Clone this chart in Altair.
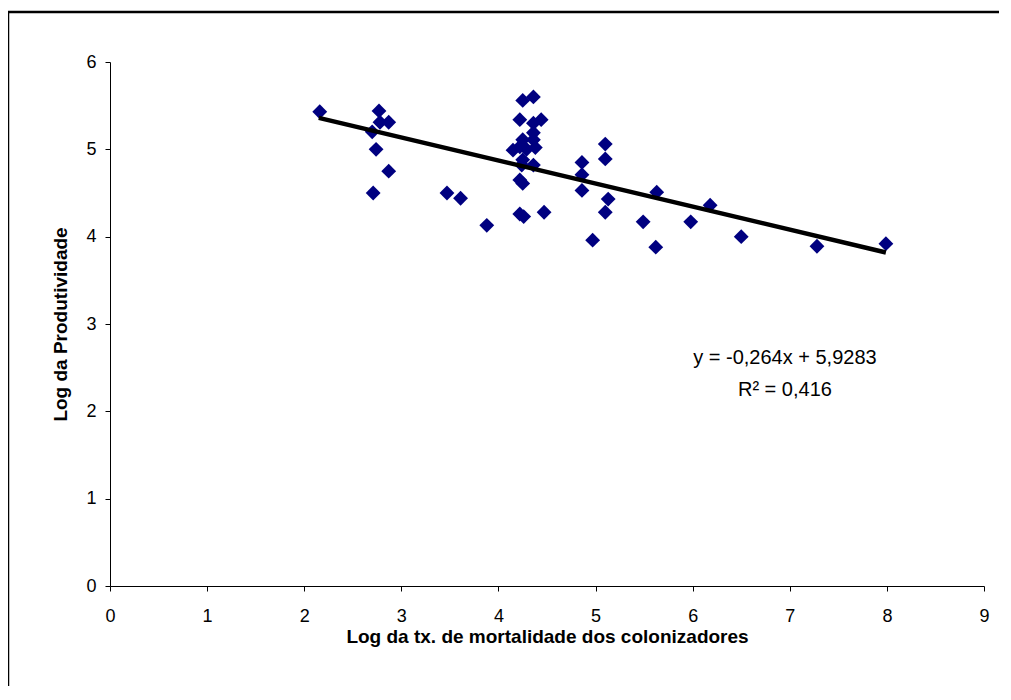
import altair as alt
import pandas as pd

# Scatter points: log settler mortality (x) vs log productivity (y)
mort = [2.16, 2.77, 2.78, 2.87, 2.70, 2.74, 2.87, 2.71, 3.47, 3.61, 3.88,
        4.25, 4.36, 4.22, 4.44, 4.36, 4.36, 4.36, 4.25, 4.15, 4.22, 4.29, 4.38,
        4.25, 4.36, 4.24, 4.22, 4.25, 4.22, 4.26, 4.47,
        4.86, 4.86, 4.86, 5.10, 5.10, 5.13, 5.10, 4.97, 5.49, 5.63, 5.62,
        5.98, 6.18, 6.50, 7.28, 7.99]
prod = [5.43, 5.44, 5.31, 5.31, 5.20, 5.00, 4.75, 4.50, 4.50, 4.44, 4.13,
        5.56, 5.60, 5.34, 5.34, 5.30, 5.19, 5.11, 5.11, 4.99, 5.03, 5.00, 5.02,
        4.88, 4.82, 4.82, 4.65, 4.61, 4.26, 4.23, 4.28,
        4.85, 4.71, 4.53, 5.06, 4.89, 4.43, 4.28, 3.96, 4.17, 4.51, 3.88,
        4.17, 4.36, 4.00, 3.89, 3.92]

# Trend line
slope = -0.264
intercept = 5.9283
trend_x = [2.15, 7.99]
trend_y = [intercept + slope * v for v in trend_x]

eq_lines = ["y = -0,264x + 5,9283", "R\u00b2 = 0,416"]
eq_x = [6.95, 6.95]
eq_y = [2.61, 2.24]

x_ticks = list(range(0, 10))
y_ticks = list(range(0, 7))

FONT = "Liberation Sans"

pts = pd.DataFrame({"x": mort, "y": prod})
trend = pd.DataFrame({"x": trend_x, "y": trend_y})
eq = pd.DataFrame({"x": eq_x, "y": eq_y, "t": eq_lines})

xs = alt.Scale(domain=[0, 9], nice=False, zero=False)
ys = alt.Scale(domain=[0, 6], nice=False, zero=False)

xaxis = alt.Axis(values=x_ticks, format="d", grid=False, tickSize=5, domainColor="#000", tickColor="#000",
                 labelFont=FONT, labelFontSize=18, labelColor="#000", labelPadding=25,
                 labelBaseline="middle", labelFlush=False,
                 title="Log da tx. de mortalidade dos colonizadores",
                 titleFont=FONT, titleFontSize=19, titleFontWeight="bold", titleColor="#000",
                 titleY=50, titleBaseline="middle")
yaxis = alt.Axis(values=y_ticks, format="d", grid=False, tickSize=5, domainColor="#000", tickColor="#000",
                 labelFont=FONT, labelFontSize=18, labelColor="#000", labelPadding=9,
                 labelFlush=False,
                 title="Log da Produtividade",
                 titleFont=FONT, titleFontSize=19, titleFontWeight="bold", titleColor="#000",
                 titleX=-50, titleBaseline="middle", titleAngle=270)

points = alt.Chart(pts).mark_point(shape="diamond", filled=True, color="#000080", size=220, opacity=1).encode(
    x=alt.X("x:Q", scale=xs, axis=xaxis),
    y=alt.Y("y:Q", scale=ys, axis=yaxis),
)

line = alt.Chart(trend).mark_line(color="#000", strokeWidth=4.5).encode(
    x=alt.X("x:Q", scale=xs), y=alt.Y("y:Q", scale=ys)
)

text = alt.Chart(eq).mark_text(font=FONT, fontSize=20, color="#000", align="center", baseline="middle").encode(
    x=alt.X("x:Q", scale=xs), y=alt.Y("y:Q", scale=ys), text="t:N"
)

one = pd.DataFrame({"a": [0]})
frame_left = alt.Chart(one).mark_rule(stroke="#000", strokeWidth=2.5).encode(
    x=alt.value(-102), y=alt.value(-50), y2=alt.value(640)
)
frame_top = alt.Chart(one).mark_rule(stroke="#000", strokeWidth=2.5).encode(
    x=alt.value(-102), x2=alt.value(905), y=alt.value(-50)
)

chart = alt.layer(frame_left, frame_top, points, line, text).properties(
    width=874, height=524,
    background="white",
    autosize=alt.AutoSizeParams(type="none"),
    padding={"left": 102, "top": 54, "right": 15, "bottom": 100},
).configure_view(strokeWidth=0, stroke="transparent")

chart.save("out.html", embed_options={"renderer": "svg", "actions": False})
